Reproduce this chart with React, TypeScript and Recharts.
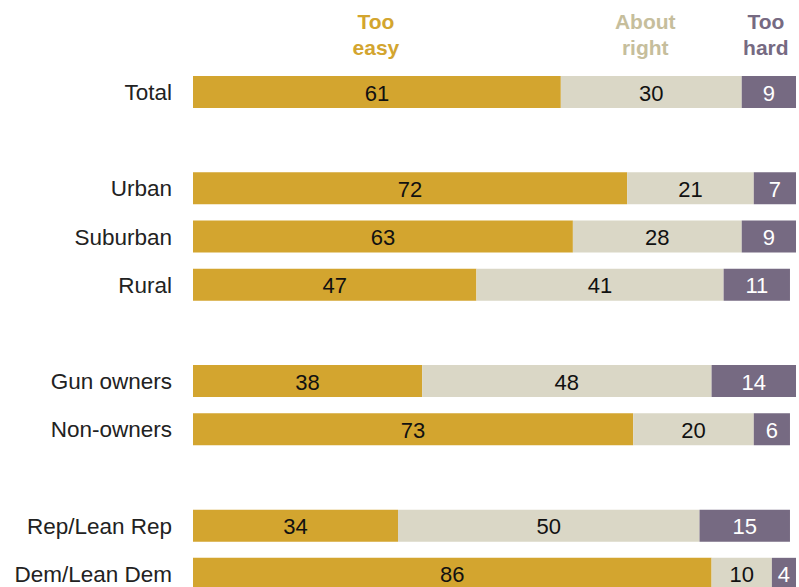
import React from 'react';
import { BarChart, Bar, XAxis, YAxis, LabelList } from 'recharts';

const categories = ['Total', '', 'Urban', 'Suburban', 'Rural', '', 'Gun owners', 'Non-owners', '', 'Rep/Lean Rep', 'Dem/Lean Dem'];
const tooEasy = [61, null, 72, 63, 47, null, 38, 73, null, 34, 86];
const aboutRight = [30, null, 21, 28, 41, null, 48, 20, null, 50, 10];
const tooHard = [9, null, 7, 9, 11, null, 14, 6, null, 15, 4];

const seriesNames = ['Too easy', 'About right', 'Too hard'];

const data = categories.map((label, i) => ({
  label,
  easy: tooEasy[i],
  right: aboutRight[i],
  hard: tooHard[i],
}));

const FONT = '"Liberation Sans", Arial, sans-serif';

const valueLabel = (color: string) => (props: any) => {
  const { x, y, width, height, value } = props;
  if (value == null) return null;
  return (
    <text
      x={x + width / 2}
      y={y + height / 2 + 1}
      textAnchor="middle"
      dominantBaseline="central"
      fill={color}
      fontSize={22}
      fontFamily={FONT}
    >
      {value}
    </text>
  );
};

const headerLabel = (name: string, color: string, dx = 0) => (props: any) => {
  const { x, y, width, index } = props;
  if (index !== 0) return null;
  const [l1, l2] = name === 'About right' ? ['About', 'right'] : name.split(' ');
  const cx = x + width / 2 + dx;
  return (
    <g>
      <text x={cx} y={y - 47} textAnchor="middle" fill={color} fontSize={21} fontWeight="bold" fontFamily={FONT}>
        {l1}
      </text>
      <text x={cx} y={y - 21} textAnchor="middle" fill={color} fontSize={21} fontWeight="bold" fontFamily={FONT}>
        {l2}
      </text>
    </g>
  );
};

export default function App() {
  return (
    <div style={{ position: 'absolute', left: 0, top: 0, width: 799, height: 587, overflow: 'hidden', background: '#fff' }}>
      <BarChart
        width={799}
        height={612}
        data={data}
        layout="vertical"
        margin={{ top: 68, right: 3, bottom: 14, left: 0 }}
        style={{ fontFamily: FONT }}
      >
        <XAxis type="number" domain={[0, 100]} hide />
        <YAxis
          type="category"
          dataKey="label"
          width={193}
          axisLine={false}
          tickLine={false}
          tickMargin={15}
          tick={{ fill: '#222', fontSize: 22.5, fontFamily: FONT }}
        />
        <Bar dataKey="easy" stackId="a" fill="#D3A52F" barSize={32} isAnimationActive={false}>
          <LabelList dataKey="easy" content={valueLabel('#111')} />
          <LabelList dataKey="easy" content={headerLabel(seriesNames[0], '#D3A52F', -1)} />
        </Bar>
        <Bar dataKey="right" stackId="a" fill="#DAD7C6" barSize={32} isAnimationActive={false}>
          <LabelList dataKey="right" content={valueLabel('#111')} />
          <LabelList dataKey="right" content={headerLabel(seriesNames[1], '#C6BE9C', -6)} />
        </Bar>
        <Bar dataKey="hard" stackId="a" fill="#766A82" barSize={32} isAnimationActive={false}>
          <LabelList dataKey="hard" content={valueLabel('#fff')} />
          <LabelList dataKey="hard" content={headerLabel(seriesNames[2], '#766A82', -3)} />
        </Bar>
      </BarChart>
    </div>
  );
}
